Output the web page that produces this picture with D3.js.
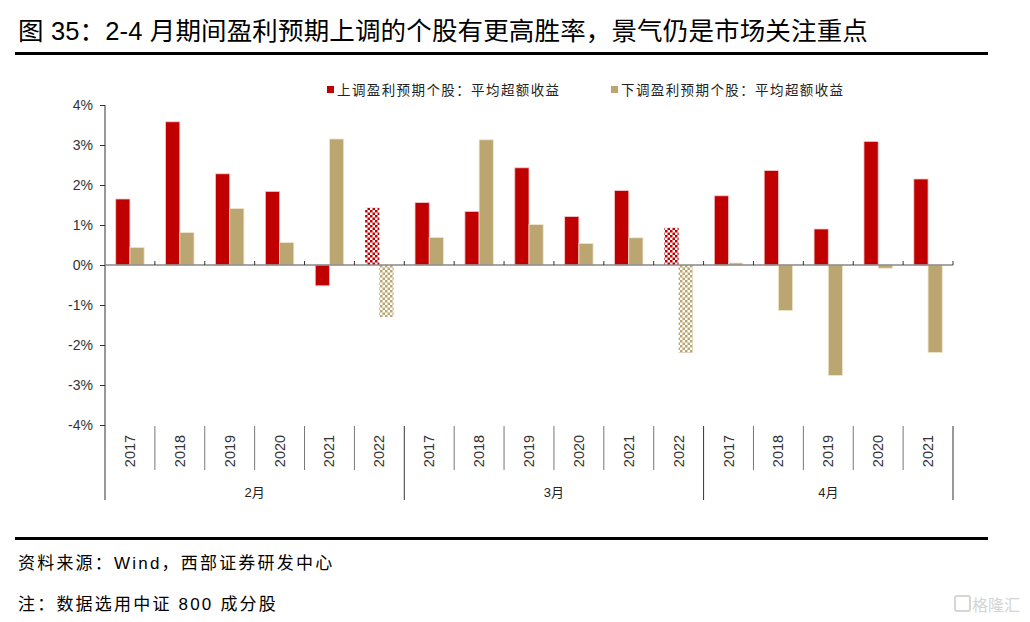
<!DOCTYPE html>
<html><head><meta charset="utf-8">
<script src="https://cdn.jsdelivr.net/npm/d3@7/dist/d3.min.js"></script>
<style>body{margin:0;background:#fff}svg{display:block}</style>
</head><body><svg id="c" width="1030" height="622"></svg>
<script>
const months = ["2月", "3月", "4月"];
const yearsByMonth = [
  ["2017","2018","2019","2020","2021","2022"],
  ["2017","2018","2019","2020","2021","2022"],
  ["2017","2018","2019","2020","2021"]
];
const upSeries = [1.65, 3.58, 2.28, 1.84, -0.52, 1.43, 1.56, 1.34, 2.43, 1.21, 1.86, 0.93, 1.73, 2.36, 0.90, 3.09, 2.15];
const downSeries = [0.44, 0.81, 1.41, 0.56, 3.15, -1.30, 0.69, 3.13, 1.01, 0.54, 0.68, -2.20, 0.05, -1.14, -2.76, -0.08, -2.19];
const yTicks = [4, 3, 2, 1, 0, -1, -2, -3, -4];
const seriesNames = ["上调盈利预期个股：平均超额收益", "下调盈利预期个股：平均超额收益"];
const title = "图 35：2-4 月期间盈利预期上调的个股有更高胜率，景气仍是市场关注重点";
const source = "资料来源：Wind，西部证券研发中心";
const note = "注：数据选用中证 800 成分股";

const RED = "#C00000", TAN = "#BBA672";
const cats = [];
yearsByMonth.forEach((ys, mi) => ys.forEach(y => cats.push({key: mi + "-" + y, year: y, month: mi})));
cats.forEach((c, i) => { c.up = upSeries[i]; c.down = downSeries[i]; });

const svg = d3.select("#c");
const CJK = "'Liberation Sans Narrow','Liberation Sans','Noto Sans CJK SC',sans-serif";
const defs = svg.append("defs");
function checker(id, color) {
  const p = defs.append("pattern").attr("id", id).attr("patternUnits", "userSpaceOnUse")
    .attr("width", 5).attr("height", 5);
  p.append("rect").attr("width", 5).attr("height", 5).attr("fill", "#fff");
  p.append("rect").attr("width", 2.5).attr("height", 2.5).attr("fill", color);
  p.append("rect").attr("x", 2.5).attr("y", 2.5).attr("width", 2.5).attr("height", 2.5).attr("fill", color);
}
checker("chkRed", RED); checker("chkTan", TAN);

// title
svg.append("text").attr("x", 18).attr("y", 40).attr("font-family", CJK)
  .attr("font-size", 25.5).attr("letter-spacing", 0.15).attr("fill", "#000").text(title);
svg.append("rect").attr("x", 15).attr("y", 52).attr("width", 973).attr("height", 3).attr("fill", "#000");
svg.append("rect").attr("x", 15).attr("y", 537).attr("width", 973).attr("height", 3).attr("fill", "#000");
const SRC = "'Liberation Sans','Noto Sans CJK SC',sans-serif";
svg.append("text").attr("x", 18).attr("y", 569).attr("font-family", SRC).attr("font-size", 17).attr("letter-spacing", 2.2).text(source);
svg.append("text").attr("x", 18).attr("y", 610).attr("font-family", SRC).attr("font-size", 17).attr("letter-spacing", 2.2).text(note);
svg.append("rect").attr("x", 955).attr("y", 596).attr("width", 15).attr("height", 15).attr("rx", 2)
  .attr("fill", "none").attr("stroke", "#d6d6d6").attr("stroke-width", 2);
svg.append("text").attr("x", 1020).attr("y", 611).attr("text-anchor", "end").attr("font-family", "'Noto Sans CJK SC',sans-serif")
  .attr("font-size", 16).attr("fill", "#d4d4d4").text("格隆汇");

const x = d3.scaleBand().domain(cats.map(c => c.key)).range([105, 953]).padding(0);
const y = d3.scaleLinear().domain([-4, 4]).range([425, 105]);
const bw = x.bandwidth() * 0.285;

// legend
const lg = [[327, RED], [611, TAN]];
lg.forEach((l, i) => {
  svg.append("rect").attr("x", l[0]).attr("y", 86).attr("width", 7).attr("height", 7).attr("fill", l[1]);
  svg.append("text").attr("x", l[0] + 10).attr("y", 95).attr("font-family", "'Noto Sans CJK SC',sans-serif")
    .attr("font-size", 13.5).attr("letter-spacing", 1.4).attr("fill", "#222").text(seriesNames[i]);
});

// y axis
const yAxis = d3.axisLeft(y).tickValues(yTicks).tickSize(5).tickFormat(d => d + "%");
const ya = svg.append("g").attr("transform", "translate(105,0)").call(yAxis);
ya.select(".domain").remove();
ya.selectAll(".tick line").attr("stroke", "#333");
ya.selectAll(".tick text").attr("font-family", "'Liberation Sans',Arial,sans-serif").attr("font-size", 14).attr("fill", "#333").attr("x", -12);
svg.append("line").attr("x1", 105).attr("x2", 105).attr("y1", 105).attr("y2", 500).attr("stroke", "#333").attr("stroke-width", 1);

// bars
const g = svg.append("g");
cats.forEach(c => {
  const cx = x(c.key) + x.bandwidth() / 2;
  const hatched = c.year === "2022";
  g.append("rect").attr("x", cx - bw).attr("width", bw)
    .attr("y", y(Math.max(0, c.up))).attr("height", Math.abs(y(c.up) - y(0)))
    .attr("fill", hatched ? "url(#chkRed)" : RED).attr("stroke", hatched ? "none" : "#f3c9c9").attr("stroke-width", 0.8);
  g.append("rect").attr("x", cx).attr("width", bw)
    .attr("y", y(Math.max(0, c.down))).attr("height", Math.abs(y(c.down) - y(0)))
    .attr("fill", hatched ? "url(#chkTan)" : TAN).attr("stroke", hatched ? "none" : "#efe6cd").attr("stroke-width", 0.8);
});

// zero line with inner ticks
svg.append("line").attr("x1", 105).attr("x2", 953).attr("y1", y(0)).attr("y2", y(0)).attr("stroke", "#888").attr("stroke-width", 1.5);
cats.forEach((c, i) => {
  if (i === 0) return;
  svg.append("line").attr("x1", x(c.key)).attr("x2", x(c.key)).attr("y1", y(0) - 4).attr("y2", y(0)).attr("stroke", "#333");
});
svg.append("line").attr("x1", 953).attr("x2", 953).attr("y1", y(0) - 4).attr("y2", y(0)).attr("stroke", "#333");

// category axis below
const bottom = svg.append("g");
let idx = 0;
yearsByMonth.forEach((ys, mi) => {
  const start = idx, end = idx + ys.length;
  ys.forEach((yr, j) => {
    const k = cats[idx + j].key;
    const cx = x(k) + x.bandwidth() / 2;
    bottom.append("text").attr("transform", `translate(${cx + 5},451) rotate(-90)`)
      .attr("text-anchor", "middle").attr("font-family", "'Liberation Sans',Arial,sans-serif")
      .attr("font-size", 14.5).attr("fill", "#333").text(yr);
    if (j > 0) bottom.append("line").attr("x1", x(k)).attr("x2", x(k)).attr("y1", 426).attr("y2", 470).attr("stroke", "#777");
  });
  const x0 = x(cats[start].key), x1 = x(cats[end - 1].key) + x.bandwidth();
  bottom.append("line").attr("x1", x1).attr("x2", x1).attr("y1", 426).attr("y2", 500).attr("stroke", "#333");
  bottom.append("text").attr("x", (x0 + x1) / 2).attr("y", 497).attr("text-anchor", "middle")
    .attr("font-family", CJK).attr("font-size", 13).attr("fill", "#222").text(months[mi]);
  idx = end;
});
</script></body></html>
